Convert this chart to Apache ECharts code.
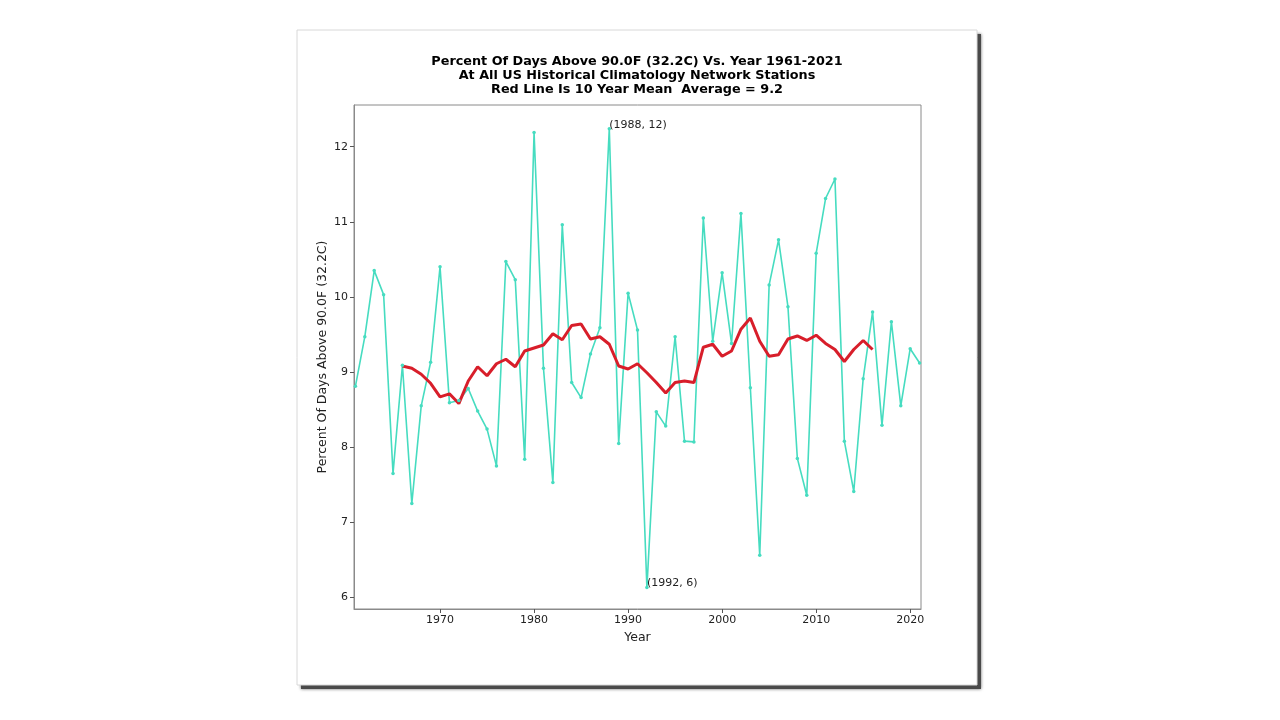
<!DOCTYPE html>
<html><head><meta charset="utf-8">
<script src="https://cdn.jsdelivr.net/npm/echarts@6/dist/echarts.min.js"></script>
<style>html,body{margin:0;padding:0;background:#fff;}#c{width:1280px;height:720px;}</style>
</head><body><div id="c"></div>
<script>
const years = [1961,1962,1963,1964,1965,1966,1967,1968,1969,1970,1971,1972,1973,1974,1975,1976,1977,1978,1979,1980,1981,1982,1983,1984,1985,1986,1987,1988,1989,1990,1991,1992,1993,1994,1995,1996,1997,1998,1999,2000,2001,2002,2003,2004,2005,2006,2007,2008,2009,2010,2011,2012,2013,2014,2015,2016,2017,2018,2019,2020,2021];
const pctDays = [8.81,9.47,10.35,10.03,7.65,9.09,7.25,8.55,9.13,10.40,8.59,8.62,8.78,8.48,8.24,7.75,10.47,10.23,7.84,12.19,9.05,7.53,10.96,8.86,8.66,9.24,9.59,12.24,8.05,10.05,9.56,6.13,8.47,8.28,9.47,8.08,8.07,11.05,9.41,10.32,9.38,11.11,8.79,6.56,10.16,10.76,9.87,7.85,7.36,10.58,11.31,11.57,8.08,7.41,8.91,9.80,8.29,9.67,8.55,9.31,9.12];
const meanYears = [1966,1967,1968,1969,1970,1971,1972,1973,1974,1975,1976,1977,1978,1979,1980,1981,1982,1983,1984,1985,1986,1987,1988,1989,1990,1991,1992,1993,1994,1995,1996,1997,1998,1999,2000,2001,2002,2003,2004,2005,2006,2007,2008,2009,2010,2011,2012,2013,2014,2015,2016];
const mean10 = [9.08,9.05,8.97,8.85,8.67,8.71,8.58,8.88,9.07,8.95,9.11,9.17,9.07,9.28,9.32,9.36,9.51,9.43,9.62,9.64,9.44,9.47,9.37,9.08,9.04,9.11,8.99,8.86,8.72,8.86,8.88,8.86,9.33,9.37,9.21,9.28,9.57,9.72,9.41,9.21,9.23,9.44,9.48,9.42,9.49,9.38,9.30,9.14,9.30,9.42,9.30];
const xTicks = [1970,1980,1990,2000,2010,2020];
const yTicks = [6,7,8,9,10,11,12];
const titleLines = ['Percent Of Days Above 90.0F (32.2C) Vs. Year 1961-2021','At All US Historical Climatology Network Stations','Red Line Is 10 Year Mean  Average = 9.2'];
const annotations = [{year:1988, value:12.24, text:'(1988, 12)'},{year:1992, value:6.13, text:'(1992, 6)'}];

const chart = echarts.init(document.getElementById('c'), null, {renderer:'canvas'});
const font = 'DejaVu Sans';
chart.setOption({
  backgroundColor:'#ffffff',
  animation:false,
  graphic:[
    {type:'rect', z:-11, shape:{x:301,y:34,width:680,height:655},
     style:{fill:'#4a4a4a', shadowBlur:3, shadowColor:'rgba(0,0,0,0.6)'}},
    {type:'rect', z:-10, shape:{x:297,y:30,width:680,height:655},
     style:{fill:'#ffffff', stroke:'#d8d8d8', lineWidth:1}}
  ],
  title:{text:titleLines.join('\n'), left:632, top:50, textAlign:'center',
    textStyle:{fontFamily:font, fontWeight:'bold', fontSize:12.8, lineHeight:14, color:'#000'}},
  grid:{left:354, top:105, right:359, bottom:111, show:true, borderColor:'#8a8a8a', borderWidth:1, backgroundColor:'#fff'},
  xAxis:{type:'value', min:1960.85, max:2021.15,
    name:'Year', nameLocation:'middle', nameGap:20,
    nameTextStyle:{fontFamily:font, fontSize:12.5, color:'#222'},
    axisLine:{show:true, lineStyle:{color:'#8a8a8a'}},
    axisTick:{show:true, length:4, lineStyle:{color:'#555'}, customValues:xTicks},
    axisLabel:{fontFamily:font, fontSize:11, color:'#222', margin:6, customValues:xTicks, formatter:v=>String(v)},
    splitLine:{show:false}},
  yAxis:{type:'value', min:5.845, max:12.555,
    name:'Percent Of Days Above 90.0F (32.2C)', nameLocation:'middle', nameGap:25, nameRotate:90,
    nameTextStyle:{fontFamily:font, fontSize:12.5, color:'#222'},
    axisLine:{show:true, lineStyle:{color:'#8a8a8a'}},
    axisTick:{show:true, length:4, lineStyle:{color:'#555'}, customValues:yTicks},
    axisLabel:{fontFamily:font, fontSize:11, color:'#222', margin:6, customValues:yTicks, formatter:v=>String(v)},
    splitLine:{show:false}},
  series:[
    {type:'line', data:years.map((y,i)=>[y,pctDays[i]]), symbol:'circle', symbolSize:3.5,
     showAllSymbol:true, clip:false,
     lineStyle:{color:'#46dcc0', width:1.6}, itemStyle:{color:'#46dcc0'},
     markPoint:{symbol:'circle', symbolSize:0,
       data:annotations.map(a=>({coord:[a.year,a.value], value:a.text})),
       label:{show:true, formatter:p=>p.value, position:[0,0], offset:[0,-4], align:'left', verticalAlign:'middle',
         fontFamily:font, fontSize:11, color:'#222'}}},
    {type:'line', data:meanYears.map((y,i)=>[y,mean10[i]]), symbol:'none',
     lineStyle:{color:'#d81e2a', width:3}, z:3}
  ]
});
</script></body></html>
